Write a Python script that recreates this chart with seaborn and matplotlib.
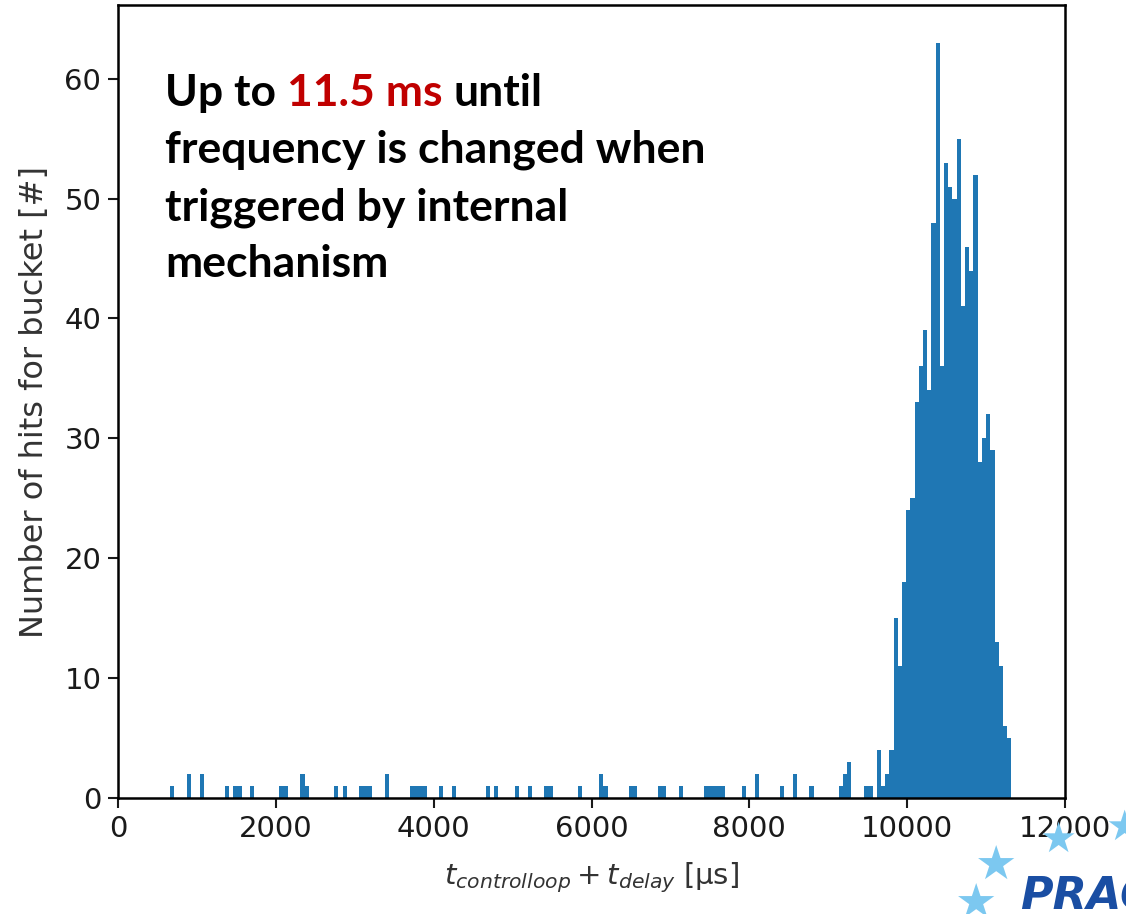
import numpy as np
import pandas as pd
import matplotlib
matplotlib.use("Agg")
import matplotlib.pyplot as plt
import seaborn as sns

# Histogram layout: equal-width buckets over the measured range [µs]
bucket_first = 660
bucket_last = 11320
n_buckets = 200

# Sparse early buckets (bucket index -> hits)
early_idx = [0, 4, 7, 13, 15, 16, 19, 26, 27, 31, 32, 39, 41, 45, 46, 47, 51,
             57, 58, 59, 60, 64, 67, 75, 77, 82, 85, 89, 90, 97, 102, 103,
             109, 110, 116, 117, 121, 127, 128, 129, 130, 131, 136, 139, 145,
             148, 152, 159, 160, 161, 165, 166]
early_hits = [1, 2, 2, 1, 1, 1, 1, 1, 1, 2, 1, 1, 1, 1, 1, 1, 2,
              1, 1, 1, 1, 1, 1, 1, 1, 1, 1, 1, 1, 1, 2, 1,
              1, 1, 1, 1, 1, 1, 1, 1, 1, 1, 1, 2, 1,
              2, 1, 1, 2, 3, 1, 1]

# Main cluster: consecutive buckets starting at peak_start
peak_start = 168
peak_hits = [4, 1, 2, 4, 15, 11, 18, 24, 25, 33, 36, 39, 34, 48, 63, 36,
             53, 51, 50, 55, 41, 46, 44, 52, 28, 30, 32, 29, 13, 11, 6, 5]

x_ticks = [0, 2000, 4000, 6000, 8000, 10000, 12000]
y_ticks = [0, 10, 20, 30, 40, 50, 60]

edges = np.linspace(bucket_first, bucket_last, n_buckets + 1)
centers = 0.5 * (edges[:-1] + edges[1:])
hits = np.zeros(n_buckets)
hits[early_idx] = early_hits
hits[peak_start:peak_start + len(peak_hits)] = peak_hits
df = pd.DataFrame({"t": centers, "hits": hits})

sns.set_theme(style="ticks")
plt.rcParams["font.family"] = ["DejaVu Sans"]
plt.rcParams["mathtext.fontset"] = "dejavusans"

W, H = 1126, 914
fig = plt.figure(figsize=(W / 100, H / 100), dpi=100)
fig.patch.set_facecolor("white")

# Corner logo (behind the axes so the tick label stays readable)
for sx, sy, fs in [(1124, 840, 30), (1058, 852, 30), (996, 880, 34),
                   (976, 918, 34)]:
    fig.text(sx / W, 1 - sy / H, "★", fontsize=fs, color="#7cc8f0",
             ha="center", va="baseline", zorder=0)
fig.text(1020 / W, 1 - 910 / H, "PRACE", fontsize=32, fontweight="bold",
         fontstyle="italic", color="#1a4ea3", ha="left", va="baseline",
         zorder=0)

ax = fig.add_axes([118 / W, 1 - 798 / H, (1065 - 118) / W, (798 - 5) / H])
ax.set_facecolor("none")
ax.patch.set_alpha(0)

sns.histplot(data=df, x="t", weights="hits", bins=edges.tolist(),
             color="#1f77b4", alpha=1, linewidth=0, ax=ax)

ax.set_xlim(0, 12000)
ax.set_ylim(0, max(peak_hits) * 1.05)
ax.set_xticks(x_ticks)
ax.set_yticks(y_ticks)
ax.tick_params(axis="both", labelsize=21, length=7, width=1.5, pad=5,
               colors="#1a1a1a", direction="out")
for sp in ax.spines.values():
    sp.set_linewidth(1.8)
    sp.set_color("black")

ax.set_ylabel("Number of hits for bucket [#]", fontsize=23, color="#333333",
              labelpad=10)
ax.set_xlabel(r"$t_{controlloop} + t_{delay}$ [µs]", fontsize=21,
              color="#333333", labelpad=13)

# Callout text (first line has a highlighted span)
note_props = dict(fontsize=32, fontweight="bold", family=["Lato", "DejaVu Sans"],
                  va="baseline", ha="left")
renderer = fig.canvas.get_renderer()


def text_width(s):
    t = fig.text(0, 0, s, **note_props)
    w = t.get_window_extent(renderer=renderer).width
    t.remove()
    return w


x0 = 165
base = [106, 163, 220, 277]
head, hl, tail = "Up to", "11.5 ms", "until"
x_hl = x0 + text_width(head + " " + hl) - text_width(hl)
x_tail = x0 + text_width(head + " " + hl + " " + tail) - text_width(tail)
fig.text(x0 / W, 1 - base[0] / H, head, color="black", **note_props)
fig.text(x_hl / W, 1 - base[0] / H, hl, color="#C00000", **note_props)
fig.text(x_tail / W, 1 - base[0] / H, tail, color="black", **note_props)
for line, b in zip(["frequency is changed when", "triggered by internal",
                    "mechanism"], base[1:]):
    fig.text(x0 / W, 1 - b / H, line, color="black", **note_props)

fig.savefig("out.png", dpi=100, facecolor="white")
